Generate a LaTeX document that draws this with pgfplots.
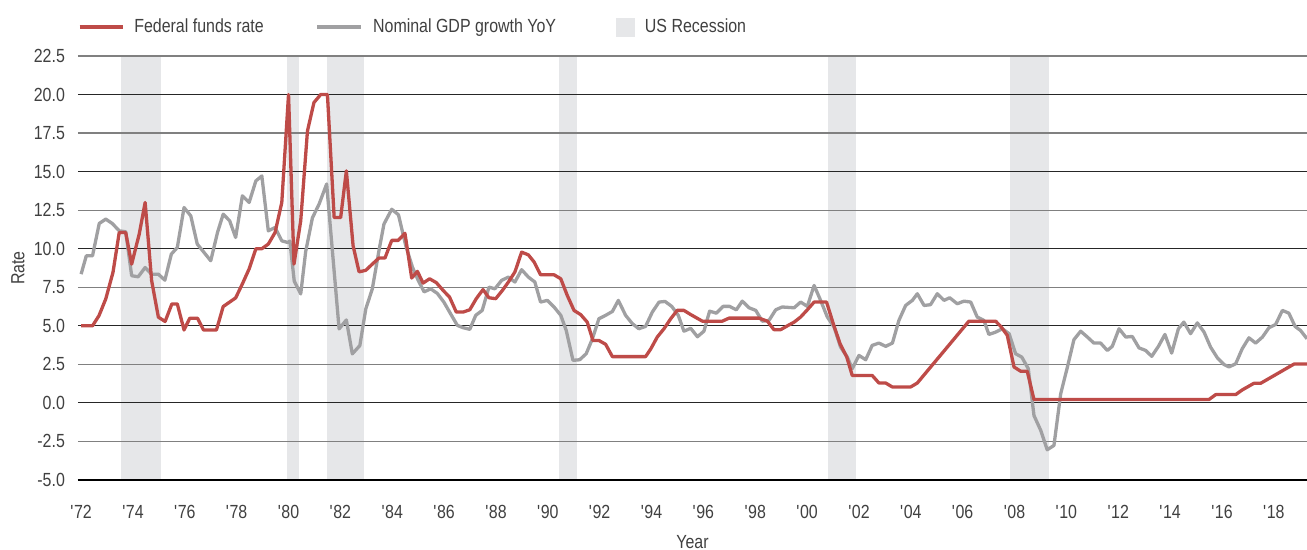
\documentclass[border=0pt]{standalone}
\usepackage{fontspec}
\setmainfont{Liberation Sans}[FakeStretch=0.84]
\usepackage{pgfplots}
\pgfplotsset{compat=1.18}
\definecolor{ffr}{HTML}{BE4B48}
\definecolor{gdp}{HTML}{A0A0A2}
\definecolor{rec}{HTML}{E6E7E9}
\definecolor{txt}{HTML}{404040}
\newcommand{\fs}{\fontsize{9.5pt}{11pt}\selectfont}
\begin{document}
\begin{tikzpicture}
\begin{axis}[
  set layers,
  scale only axis,
  width=614.5pt, height=212pt,
  xmin=1971.88, xmax=2019.28,
  ymin=-5, ymax=22.5,
  axis x line*=bottom, axis y line*=left,
  x axis line style={line width=1.2pt, black},
  y axis line style={draw=none},
  major tick length=0pt,
  xtick={1972,1974,...,2018},
  xticklabels={\textquotesingle72,\textquotesingle74,\textquotesingle76,\textquotesingle78,\textquotesingle80,\textquotesingle82,\textquotesingle84,\textquotesingle86,\textquotesingle88,\textquotesingle90,\textquotesingle92,\textquotesingle94,\textquotesingle96,\textquotesingle98,\textquotesingle00,\textquotesingle02,\textquotesingle04,\textquotesingle06,\textquotesingle08,\textquotesingle10,\textquotesingle12,\textquotesingle14,\textquotesingle16,\textquotesingle18},
  ytick={-2.5,2.5,7.5,12.5,17.5,22.5},
  extra y ticks={-5,0,5,10,15,20},
  extra y tick style={ymajorgrids=true, major grid style={black!85, line width=0.55pt}},
  ymajorgrids=true,
  major grid style={black!50, line width=0.65pt},
  /pgf/number format/fixed,
  /pgf/number format/fixed zerofill,
  /pgf/number format/precision=1,
  /pgf/number format/assume math mode=true,
  yticklabel style={font=\fs, text=txt, anchor=east, xshift=-3pt},
  xticklabel style={font=\fs, text=txt, anchor=center, yshift=-16pt},
  xlabel={Year}, ylabel={Rate},
  xlabel style={font=\fs, text=txt, at={(axis description cs:0.5,0)}, anchor=center, yshift=-31pt},
  ylabel style={font=\fs, text=txt, at={(axis description cs:0,0.5)}, anchor=center, yshift=30pt},
  legend columns=3,
  legend style={draw=none, fill=none, inner sep=0pt, outer sep=0pt, font=\fs, text=txt,
    at={(axis description cs:0,1)}, anchor=west, yshift=14.5pt,
    nodes={inner sep=1pt},
    /tikz/every odd column/.append style={column sep=4pt},
    /tikz/every even column/.append style={column sep=25pt}},
  legend cell align=left,
]
% recession bands
\addplot[fill=rec, draw=none, on layer=axis background, forget plot] coordinates {(1973.54,-5) (1973.54,22.5) (1975.07,22.5) (1975.07,-5)} -- cycle;
\addplot[fill=rec, draw=none, on layer=axis background, forget plot] coordinates {(1979.94,-5) (1979.94,22.5) (1980.41,22.5) (1980.41,-5)} -- cycle;
\addplot[fill=rec, draw=none, on layer=axis background, forget plot] coordinates {(1981.49,-5) (1981.49,22.5) (1982.90,22.5) (1982.90,-5)} -- cycle;
\addplot[fill=rec, draw=none, on layer=axis background, forget plot] coordinates {(1990.45,-5) (1990.45,22.5) (1991.13,22.5) (1991.13,-5)} -- cycle;
\addplot[fill=rec, draw=none, on layer=axis background, forget plot] coordinates {(2000.81,-5) (2000.81,22.5) (2001.88,22.5) (2001.88,-5)} -- cycle;
\addplot[fill=rec, draw=none, on layer=axis background, forget plot] coordinates {(2007.83,-5) (2007.83,22.5) (2009.32,22.5) (2009.32,-5)} -- cycle;
% Nominal GDP growth
\addplot[gdp, line width=1.65pt, forget plot, line join=round] coordinates {
(1972.0,8.35)(1972.2,9.54)(1972.44,9.54)(1972.7,11.64)(1972.95,11.92)(1973.2,11.64)(1973.47,11.16)(1973.72,11.1)
(1973.95,8.25)(1974.2,8.18)(1974.47,8.78)(1974.72,8.35)(1974.98,8.35)(1975.23,7.96)(1975.48,9.65)(1975.71,10.08)
(1975.97,12.67)(1976.23,12.13)(1976.48,10.3)(1976.74,9.76)(1977.0,9.22)(1977.26,11.05)(1977.48,12.24)(1977.73,11.81)
(1977.96,10.73)(1978.22,13.43)(1978.48,13.0)(1978.74,14.4)(1978.97,14.72)(1979.22,11.16)(1979.48,11.38)(1979.74,10.51)
(1979.98,10.4)(1980.05,10.5)(1980.22,7.9)(1980.47,7.07)(1980.66,9.8)(1980.92,12.0)(1981.18,12.9)(1981.47,14.2)
(1981.95,4.8)(1982.23,5.38)(1982.46,3.18)(1982.75,3.72)(1982.98,6.1)(1983.23,7.39)(1983.49,9.9)(1983.68,11.6)
(1983.98,12.56)(1984.24,12.2)(1984.52,10.2)(1984.78,8.8)(1985.0,7.95)(1985.23,7.2)(1985.48,7.4)(1985.74,7.1)
(1985.99,6.54)(1986.25,5.78)(1986.51,5.03)(1986.73,4.88)(1986.99,4.77)(1987.22,5.68)(1987.47,6.0)(1987.73,7.51)
(1987.96,7.4)(1988.22,7.95)(1988.48,8.16)(1988.73,7.84)(1988.99,8.64)(1989.25,8.16)(1989.5,7.84)(1989.72,6.54)
(1989.98,6.65)(1990.24,6.22)(1990.5,5.68)(1990.71,4.7)(1990.97,2.76)(1991.23,2.8)(1991.48,3.19)(1991.72,4.16)
(1991.97,5.46)(1992.23,5.68)(1992.49,5.93)(1992.72,6.65)(1993.0,5.68)(1993.26,5.14)(1993.51,4.81)(1993.77,4.96)
(1994.03,5.89)(1994.29,6.54)(1994.52,6.58)(1994.78,6.26)(1995.03,5.68)(1995.25,4.65)(1995.51,4.84)(1995.77,4.29)
(1996.02,4.65)(1996.24,5.95)(1996.5,5.82)(1996.76,6.26)(1997.01,6.26)(1997.27,6.04)(1997.5,6.6)(1997.76,6.17)
(1998.02,6.0)(1998.27,5.3)(1998.53,5.35)(1998.79,6.04)(1999.04,6.22)(1999.5,6.17)(1999.75,6.54)(2000.01,6.26)
(2000.27,7.62)(2000.52,6.65)(2000.78,5.57)(2001.04,4.92)(2001.29,3.62)(2001.55,2.97)(2001.74,2.22)(2002.0,3.08)
(2002.26,2.8)(2002.51,3.73)(2002.77,3.88)(2003.03,3.67)(2003.29,3.88)(2003.54,5.35)(2003.8,6.32)(2004.06,6.65)
(2004.25,7.08)(2004.51,6.32)(2004.76,6.37)(2005.02,7.08)(2005.28,6.65)(2005.5,6.82)(2005.79,6.43)(2006.05,6.6)
(2006.31,6.54)(2006.56,5.57)(2006.82,5.35)(2007.01,4.44)(2007.27,4.59)(2007.53,4.81)(2007.79,4.49)(2008.04,3.19)
(2008.28,2.97)(2008.53,2.22)(2008.75,-0.82)(2009.01,-1.78)(2009.26,-3.04)(2009.52,-2.76)(2009.78,0.59)(2010.04,2.33)
(2010.29,4.1)(2010.55,4.65)(2010.81,4.27)(2011.06,3.88)(2011.32,3.88)(2011.58,3.4)(2011.77,3.67)(2012.03,4.81)
(2012.29,4.27)(2012.54,4.31)(2012.8,3.57)(2013.06,3.4)(2013.29,3.02)(2013.55,3.67)(2013.8,4.44)(2014.06,3.23)
(2014.32,4.81)(2014.53,5.24)(2014.79,4.49)(2015.05,5.19)(2015.31,4.59)(2015.56,3.62)(2015.82,2.93)(2016.08,2.49)
(2016.27,2.33)(2016.53,2.54)(2016.78,3.51)(2017.04,4.22)(2017.3,3.88)(2017.56,4.27)(2017.81,4.87)(2018.07,5.09)
(2018.33,6.0)(2018.58,5.82)(2018.82,4.96)(2019.03,4.7)(2019.28,4.16)
};
% Federal funds rate
\addplot[ffr, line width=1.65pt, forget plot, line join=round] coordinates {
(1972.0,5.0)(1972.44,5.0)(1972.69,5.66)(1972.95,6.74)(1973.23,8.47)(1973.47,11.05)(1973.72,11.05)(1973.95,9.0)
(1974.24,10.94)(1974.47,13.0)(1974.72,7.93)(1974.98,5.56)(1975.24,5.28)(1975.5,6.42)(1975.71,6.42)(1975.97,4.73)
(1976.19,5.49)(1976.49,5.49)(1976.72,4.73)(1977.22,4.73)(1977.48,6.25)(1977.96,6.81)(1978.22,7.72)(1978.48,8.69)
(1978.74,10.0)(1978.97,10.0)(1979.22,10.3)(1979.48,11.05)(1979.74,13.0)(1980.0,20.0)(1980.21,9.0)(1980.47,11.81)
(1980.73,17.64)(1980.98,19.48)(1981.24,20.0)(1981.5,20.0)(1981.76,12.02)(1982.01,12.02)(1982.23,15.05)(1982.49,10.19)
(1982.72,8.5)(1982.98,8.6)(1983.23,9.0)(1983.49,9.4)(1983.72,9.4)(1983.98,10.54)(1984.23,10.54)(1984.49,11.0)
(1984.75,8.1)(1984.97,8.53)(1985.19,7.77)(1985.44,8.05)(1985.7,7.8)(1985.96,7.3)(1986.21,6.86)(1986.47,5.89)
(1986.73,5.89)(1986.99,6.04)(1987.24,6.76)(1987.5,7.35)(1987.73,6.82)(1987.99,6.76)(1988.25,7.3)(1988.48,7.84)
(1988.73,8.49)(1988.99,9.78)(1989.25,9.6)(1989.47,9.14)(1989.72,8.31)(1990.24,8.31)(1990.5,8.05)(1990.75,6.97)
(1991.01,6.0)(1991.27,5.72)(1991.52,5.24)(1991.74,4.05)(1991.97,4.05)(1992.23,3.8)(1992.49,3.0)(1993.77,3.0)
(1993.97,3.5)(1994.22,4.27)(1994.48,4.81)(1994.74,5.46)(1994.99,6.0)(1995.25,6.0)(1995.5,5.74)(1995.96,5.3)
(1996.73,5.3)(1996.99,5.5)(1998.14,5.5)(1998.47,5.3)(1998.72,4.75)(1998.98,4.75)(1999.24,5.0)(1999.5,5.24)
(1999.75,5.57)(2000.01,6.04)(2000.27,6.54)(2000.75,6.54)(2001.01,5.13)(2001.27,3.84)(2001.53,2.97)(2001.74,1.78)
(2002.51,1.78)(2002.77,1.29)(2003.03,1.29)(2003.29,1.03)(2003.99,1.03)(2004.25,1.29)(2006.24,5.3)(2007.27,5.3)
(2007.47,4.96)(2007.72,4.38)(2007.98,2.33)(2008.24,2.05)(2008.49,2.05)(2008.75,0.22)(2015.5,0.22)(2015.76,0.54)
(2016.53,0.54)(2016.78,0.84)(2017.23,1.27)(2017.49,1.27)(2018.78,2.52)(2019.28,2.52)
};
\addlegendimage{legend image code/.code={\draw[ffr, line width=1.65pt] (0pt,0pt) -- (21.5pt,0pt);}}
\addlegendentry{Federal funds rate}
\addlegendimage{legend image code/.code={\draw[gdp, line width=1.65pt] (0pt,0pt) -- (22pt,0pt);}}
\addlegendentry{Nominal GDP growth YoY\hspace*{4pt}}
\addlegendimage{legend image code/.code={\fill[rec] (0pt,-4.5pt) rectangle (9pt,4.5pt);}}
\addlegendentry{US Recession}
\end{axis}
\pgfresetboundingbox
\useasboundingbox ([shift={(-39pt,-35pt)}]current axis.south west) rectangle ([shift={(0pt,28pt)}]current axis.north east);
\end{tikzpicture}
\end{document}
